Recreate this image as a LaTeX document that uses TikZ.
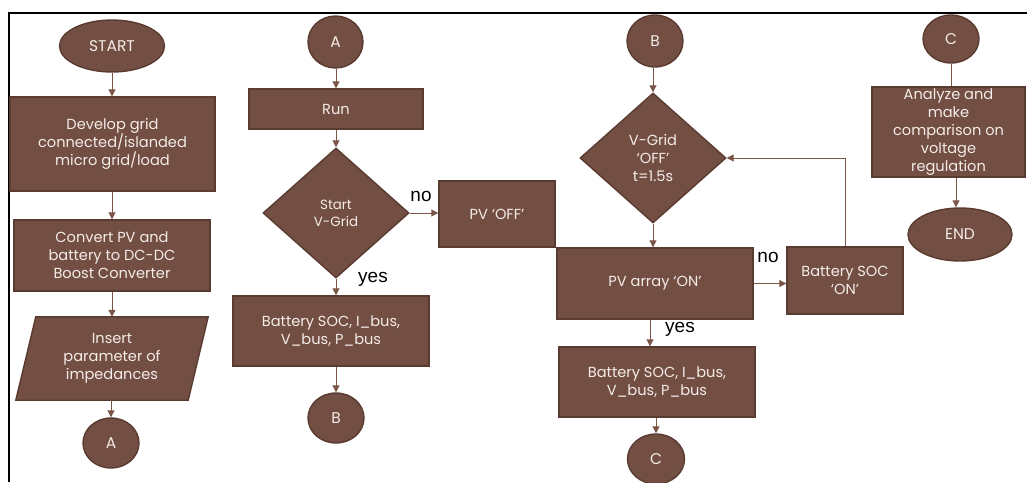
\documentclass[tikz,border=0pt]{standalone}
\usepackage{fontspec}
\setmainfont{Poppins}
\newfontfamily\labelfont{Liberation Sans}
\usetikzlibrary{shapes.geometric,arrows.meta}
\definecolor{boxfill}{HTML}{734E42}
\definecolor{boxdraw}{HTML}{5A3B31}
\definecolor{linec}{HTML}{7A5547}
\definecolor{txt}{HTML}{F4ECE8}
\tikzset{
  base/.style={fill=boxfill,draw=boxdraw,line width=1.4pt,text=txt,inner sep=0pt,align=center,font=\fontsize{14.6}{18}\selectfont},
  procbox/.style={base,rectangle},
  term/.style={base,ellipse},
  decis/.style={base,diamond},
  arr/.style={draw=linec,line width=1pt,-{Triangle[length=7pt,width=7pt]}},
  plain/.style={draw=linec,line width=1pt},
  lab/.style={font=\labelfont\fontsize{19}{20}\selectfont,text=black,inner sep=0pt}
}
\begin{document}
\begin{tikzpicture}[x=1pt,y=-1pt]
\useasboundingbox (0,0) rectangle (1027,482);
% frame
\draw[line width=1.6pt,black] (9,482) -- (9,13) -- (1027,13);
% column 1
\node[term,minimum width=105pt,minimum height=52pt,font=\fontsize{15.5}{18}\selectfont] (start) at (112,46) {START};
\node[procbox,minimum width=205pt,minimum height=94pt] (dev) at (112.5,144) {Develop grid\\connected/islanded\\micro grid/load};
\node[procbox,minimum width=196pt,minimum height=71pt] (conv) at (112,255.5) {Convert PV and\\battery to DC-DC\\Boost Converter};
\node[minimum width=192pt,minimum height=83pt,inner sep=0pt] (par) at (112,358.5) {};
\path[fill=boxfill,draw=boxdraw,line width=1.4pt]
  ([xshift=20pt]par.north west) -- (par.north east) -- ([xshift=-20pt]par.south east) -- (par.south west) -- cycle;
\node[text=txt,align=center,font=\fontsize{14.6}{18}\selectfont] at (par.center) {Insert\\parameter of\\impedances};
\node[term,minimum width=56pt,minimum height=50pt,font=\fontsize{15.5}{18}\selectfont] (a1) at (111,443) {A};
\draw[arr] (start) -- (start |- dev.north);
\draw[arr] (dev.south -| start) -- (start |- conv.north);
\draw[arr] (conv.south -| start) -- (start |- par.north);
\draw[arr] (par.south -| a1) -- (a1.north);
% column 2
\node[term,minimum width=55pt,minimum height=52pt,font=\fontsize{15.5}{18}\selectfont] (a2) at (335.5,42) {A};
\node[procbox,minimum width=174pt,minimum height=40pt] (run) at (336,109) {Run};
\node[decis,minimum width=146pt,minimum height=130pt,font=\fontsize{13.4}{17}\selectfont] (d1) at (336,213) {Start\\V-Grid};
\node[procbox,minimum width=116pt,minimum height=66pt] (pvoff) at (497,214) {PV ‘OFF’};
\node[procbox,minimum width=196pt,minimum height=70pt] (bat1) at (331,331) {Battery SOC, I\_bus,\\V\_bus, P\_bus};
\node[term,minimum width=56pt,minimum height=50pt,font=\fontsize{15.5}{18}\selectfont] (b1) at (336,418) {B};
\draw[arr] (a2.south -| run) -- (run.north);
\draw[arr] (run.south -| d1) -- (d1.north);
\draw[arr] (d1.east) -- (d1.east -| pvoff.west);
\draw[arr] (d1.south) -- (d1.south |- bat1.north);
\draw[arr] (bat1.south -| b1) -- (b1.north);
\node[lab] (no1) at (421,196) {no};
\node[lab] (yes1) at (373,279) {yes};
% column 3
\node[term,minimum width=56pt,minimum height=52pt,font=\fontsize{15.5}{18}\selectfont] (b2) at (655,41) {B};
\node[decis,minimum width=146pt,minimum height=130pt] (d2) at (653,158) {V-Grid\\‘OFF’\\t=1.5s};
\node[procbox,minimum width=196pt,minimum height=71pt] (pvon) at (655,283.5) {PV array ‘ON’};
\node[procbox,minimum width=116pt,minimum height=67pt] (baton) at (845,280.5) {Battery SOC\\‘ON’};
\node[procbox,minimum width=196pt,minimum height=70pt] (bat2) at (657,382) {Battery SOC, I\_bus,\\V\_bus, P\_bus};
\node[term,minimum width=57pt,minimum height=50pt,font=\fontsize{15.5}{18}\selectfont] (c1) at (656,459) {C};
\draw[arr] (b2.south -| d2) -- (d2.north);
\draw[arr] (d2.south) -- (d2.south |- pvon.north);
\draw[arr] (pvon.east) -- (pvon.east -| baton.west);
\draw[arr] (baton.north) -- (baton.north |- d2.east) -- (d2.east);
\draw[arr] ([xshift=-5pt]pvon.south) -- ([xshift=-5pt]pvon.south |- bat2.north);
\draw[arr] (bat2.south -| c1) -- (c1.north);
\node[lab] (no2) at (768,257) {no};
\node[lab] (yes2) at (680,329) {yes};
% column 4
\node[term,minimum width=56pt,minimum height=48pt,font=\fontsize{15.5}{18}\selectfont] (c2) at (951,39) {C};
\node[procbox,minimum width=153pt,minimum height=90pt] (ana) at (948.5,132) {Analyze and\\make\\comparison on\\voltage\\regulation};
\node[term,minimum width=104pt,minimum height=53pt,font=\fontsize{15.5}{18}\selectfont] (endn) at (960,234.5) {END};
\draw[plain] (c2.south) -- (c2.south |- ana.north);
\draw[arr] ([xshift=7.5pt]ana.south) -- ([xshift=7.5pt]ana.south |- endn.north);
\end{tikzpicture}
\end{document}
